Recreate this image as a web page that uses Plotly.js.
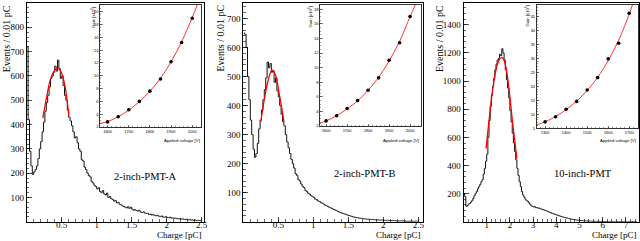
<!DOCTYPE html>
<html><head><meta charset="utf-8">
<script src="https://cdn.plot.ly/plotly-3.0.1.min.js"></script>
<style>html,body{margin:0;padding:0;background:#fff}#chart{width:640px;height:241px}</style>
</head><body><div id="chart"></div><script>
// ---- histogram data (Events per bin) ----
const binWidthAB = 0.02;
const countsA = [720,420,290,230,195,205,215,230,260,300,
 330,370,410,455,490,520,555,590,600,615,
 640,620,665,630,590,600,560,520,500,460,
 430,415,395,370,345,350,325,300,290,255,
 250,225,215,200,190,185,165,160,150,145,
 135,140,125,120,128,115,110,118,100,104,
 95,92,85,88,78,80,72,70,66,63,
 60,57,62,55,60,52,48,50,46,44,
 47,40,38,41,36,34,35,30,32,28,
 30,26,25,27,23,22,24,20,19,21,
 18,17,19,15,16,14,15,13,12,14,
 11,12,10,9,11,8,9,7,8,6,
 7,5,6,5,4];
const countsB = [650,645,600,500,420,350,300,250,222,235,
 270,320,350,385,420,455,495,550,530,545,
 515,520,480,495,450,430,400,370,345,330,
 300,275,255,235,215,200,185,165,160,145,
 140,130,122,118,108,104,98,95,90,87,
 84,78,76,72,70,66,64,61,57,55,
 53,50,48,46,43,41,39,36,34,32,
 30,28,27,25,23,22,20,19,17,16,
 15,14,13,12,12,11,10,10,9,9,
 8,8,8,7,7,7,6,6,6,6,
 5,5,5,5,4,4,4,4,4,3,
 3,3,3,3,3,3,2,2,2,2,
 2,2,2,2,2];
const binWidthC = 0.05;
const countsC = [200,180,110,115,125,130,140,150,165,185,
 200,215,235,250,265,285,300,340,380,430,
 480,600,720,820,900,960,1020,1080,1120,1150,
 1160,1190,1180,1230,1200,1150,1080,1010,950,880,
 790,710,630,560,500,440,380,330,285,250,
 215,190,175,160,150,145,135,125,115,110,
 105,108,100,102,96,98,92,90,86,84,
 80,78,74,70,68,64,60,57,55,52,
 48,46,43,40,38,35,32,30,28,26,
 24,22,20,18,17,15,14,13,12,11,
 10,9,8,7,7,6,6,5,5,4,
 4,4,3,3,3,3,2,2,2,2,
 2,2,2,1,1,1,1,1,1,1,
 1,1,1,1,1,1,1,1,1,1,
 1,1,1,1,1,1,1,1,1,1];
// ---- fitted peak curves (read points) ----
const fitAx = [0.23,0.286,0.343,0.405,0.452,0.50,0.548,0.575,0.60];
const fitAy = [426,515,590,625,631,611,556,505,440];
const fitBx = [0.25,0.30,0.35,0.41,0.46,0.51,0.55,0.58];
const fitBy = [345,420,482,522,505,445,390,345];
const fitCx = [0.97,1.10,1.25,1.40,1.55,1.67,1.80,1.95,2.10,2.20,2.30];
const fitCy = [520,720,930,1080,1155,1166,1120,960,730,590,450];
// ---- insets: gain vs applied voltage ----
const voltA = [1600,1650,1700,1750,1800,1850,1900,1950,2000];
const gainA = [2.8,3.6,4.7,6.0,7.6,9.5,12.2,15.2,19.0];
const voltB = [1600,1650,1700,1750,1800,1850,1900,1950,2000];
const gainB = [2.7,3.4,4.4,5.5,6.9,8.6,11.0,13.4,17.0];
const voltC = [1300,1350,1400,1450,1500,1550,1600,1650,1700];
const gainC = [7.3,9.1,11.8,14.6,18.7,23.1,29.8,35.4,46.1];
const gfitAx = [1564,1600,1650,1700,1750,1800,1850,1900,1950,2000,2025];
const gfitAy = [2.55,2.85,3.6,4.65,5.95,7.6,9.6,12.2,15.3,19.1,21.2];
const gfitBx = [1571,1600,1650,1700,1750,1800,1850,1900,1950,2000,2028];
const gfitBy = [2.37,2.7,3.4,4.35,5.45,6.9,8.65,10.9,13.6,17.0,18.8];
const gfitCx = [1260,1300,1350,1400,1450,1500,1550,1600,1650,1700,1716];
const gfitCy = [6.2,7.3,9.2,11.7,14.7,18.5,23.2,29.2,36.5,45.7,49.2];
const labels = ['2-inch-PMT-A','2-inch-PMT-B','10-inch-PMT'];

const W = 640, H = 241;
const px = v => v / W, py = v => 1 - v / H;
const centers = (n, w) => Array.from({length:n}, (_, i) => w * (i + 0.5));

const serif = 'Liberation Serif, Times New Roman, serif';
const sans = 'Liberation Sans, Arial, sans-serif';

function hist(counts, w, xa, ya) {
  return {x: centers(counts.length, w), y: counts, xaxis: xa, yaxis: ya, type: 'scatter', mode: 'lines',
    line: {shape: 'hvh', color: '#111', width: 1}, hoverinfo: 'skip'};
}
function fit(x, y, xa, ya, w) {
  return {x, y, xaxis: xa, yaxis: ya, type: 'scatter', mode: 'lines',
    line: {shape: 'spline', color: '#ff0000', width: w}, hoverinfo: 'skip'};
}
function pts(x, y, xa, ya) {
  return {x, y, xaxis: xa, yaxis: ya, type: 'scatter', mode: 'markers',
    marker: {color: '#000', size: 3.6}, hoverinfo: 'skip'};
}

const traces = [
  hist(countsA, binWidthAB, 'x', 'y'), fit(fitAx, fitAy, 'x', 'y', 1.3),
  hist(countsB, binWidthAB, 'x2', 'y2'), fit(fitBx, fitBy, 'x2', 'y2', 1.3),
  hist(countsC, binWidthC, 'x3', 'y3'), fit(fitCx, fitCy, 'x3', 'y3', 1.3),
  fit(gfitAx, gfitAy, 'x4', 'y4', 0.8), pts(voltA, gainA, 'x4', 'y4'),
  fit(gfitBx, gfitBy, 'x5', 'y5', 0.8), pts(voltB, gainB, 'x5', 'y5'),
  fit(gfitCx, gfitCy, 'x6', 'y6', 0.8), pts(voltC, gainC, 'x6', 'y6')
];

function mainAx(domain, range, tickvals, minorD, anchor, isX) {
  return {domain, range, anchor, tickmode: 'array', tickvals, ticks: 'inside', ticklen: 5, tickwidth: 0.7,
    tickcolor: '#000', showline: true, mirror: true, linecolor: '#000', linewidth: 1,
    ticklabelstandoff: isX ? -6 : 0,
    showgrid: false, zeroline: false, tickfont: {family: serif, size: 9, color: '#000'},
    minor: {ticks: 'inside', ticklen: 2.5, tickwidth: 0.6, tickcolor: '#000', tickmode: 'linear', tick0: 0, dtick: minorD, showgrid: false}};
}
function insetAx(domain, range, tickvals, minorD, anchor) {
  return {domain, range, anchor, tickmode: 'array', tickvals, ticks: 'inside', ticklen: 2.5, tickwidth: 0.5,
    tickcolor: '#000', showline: true, mirror: true, linecolor: '#000', linewidth: 0.8,
    showgrid: false, zeroline: false, tickfont: {family: sans, size: 4, color: '#000'},
    minor: {ticks: 'inside', ticklen: 1.3, tickwidth: 0.4, tickcolor: '#000', tickmode: 'linear', tick0: 0, dtick: minorD, showgrid: false}};
}

const yMainDom = [py(221.8), py(3)];
const layout = {
  width: W, height: H, margin: {l: 0, r: 0, t: 0, b: 0},
  paper_bgcolor: '#fff', plot_bgcolor: '#fff', showlegend: false, hovermode: false,
  xaxis: mainAx([px(26.7), px(204)], [0, 2.533], [0.5, 1, 1.5, 2, 2.5], 0.1, 'y', true),
  yaxis: mainAx(yMainDom, [0, 900], [100,200,300,400,500,600,700,800,900], 20, 'x'),
  xaxis2: mainAx([px(243.3), px(423)], [0, 2.567], [0.5, 1, 1.5, 2, 2.5], 0.1, 'y2', true),
  yaxis2: mainAx(yMainDom, [0, 753], [100,200,300,400,500,600,700], 20, 'x2'),
  xaxis3: mainAx([px(463.5), px(638.5)], [0, 7.543], [1,2,3,4,5,6,7], 0.2, 'y3', true),
  yaxis3: mainAx(yMainDom, [0, 1555], [200,400,600,800,1000,1200,1400], 40, 'x3'),
  xaxis4: insetAx([px(100), px(201.5)], [1564, 2044], [1600,1700,1800,1900,2000], 20, 'y4'),
  yaxis4: insetAx([py(127), py(5)], [2, 21.06], [2,4,6,8,10,12,14,16,18,20], 0.5, 'x4'),
  xaxis5: insetAx([px(320), px(421)], [1571, 2052], [1600,1700,1800,1900,2000], 20, 'y5'),
  yaxis5: insetAx([py(126), py(5)], [2, 18.58], [2,4,6,8,10,12,14,16,18], 0.5, 'x5'),
  xaxis6: insetAx([px(536.7), px(638)], [1260, 1742], [1300,1400,1500,1600,1700], 20, 'y6'),
  yaxis6: insetAx([py(128.3), py(5)], [5, 49.04], [5,10,15,20,25,30,35,40,45], 1, 'x6'),
  annotations: []
};
const A = layout.annotations;
const ann = (text, x, y, xa, ya, size, fam, angle) => A.push({text, x: px(x), y: py(y), xref: 'paper', yref: 'paper',
  xanchor: xa, yanchor: ya, showarrow: false, textangle: angle || 0, font: {family: fam, size, color: '#000'}});
[6.7, 220, 439.5].forEach(x => ann('Events / 0.01 pC', x, 3, 'center', 'top', 10, serif, -90));
[204, 423, 638.5].forEach(x => ann('Charge [pC]', x, 241.5, 'right', 'bottom', 9, serif));
ann(labels[0], 145, 176, 'center', 'middle', 10.5, serif);
ann(labels[1], 364, 173.5, 'center', 'middle', 10.5, serif);
ann(labels[2], 583, 173.5, 'center', 'middle', 10.5, serif);
[201.5, 421, 638].forEach(x => ann('Applied voltage [V]', x, 140, 'right', 'middle', 4.3, sans));
[[92.5, 5], [310, 5], [527, 4]].forEach(p => ann('Gain [x10<sup>6</sup>]', p[0], p[1], 'center', 'top', 4.3, sans, -90));

Plotly.newPlot('chart', traces, layout, {staticPlot: true, displayModeBar: false});
</script></body></html>
